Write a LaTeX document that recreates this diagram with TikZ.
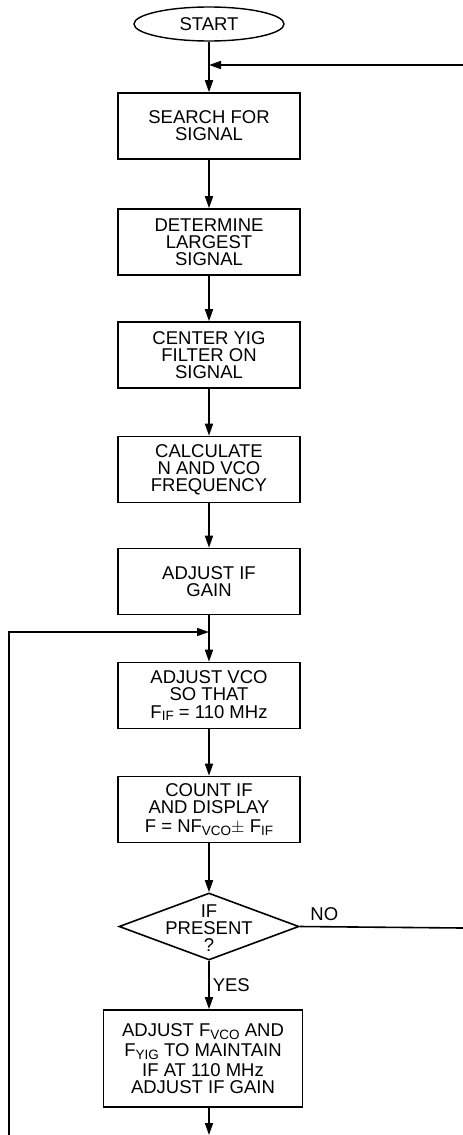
\documentclass[tikz,border=0pt]{standalone}
\usepackage{fontspec}
\setmainfont{Liberation Sans}
\usetikzlibrary{shapes.geometric,arrows.meta}
\newcommand{\subtxt}[1]{\raisebox{-0.3ex}{\fontsize{13.5}{13.5}\selectfont #1}}
\tikzset{
  flowbox/.style={draw, line width=1.6pt, minimum width=182pt, minimum height=66pt, align=center, inner sep=2pt},
  flowline/.style={line width=1.6pt, -{Triangle[length=12pt,width=8pt]}},
  plainline/.style={line width=1.6pt},
}
\begin{document}
\begin{tikzpicture}[x=1pt,y=-1pt,font=\fontsize{18.5}{17}\selectfont]
\useasboundingbox (0,0) rectangle (463,1135);
% main column of steps
\node[ellipse, draw, line width=1.4pt, minimum width=150pt, minimum height=34pt, inner sep=0pt] (start) at (209,24) {START};
\node[flowbox] (search) at (209,126) {SEARCH FOR\\SIGNAL};
\node[flowbox] (largest) at (209,242) {DETERMINE\\LARGEST\\SIGNAL};
\node[flowbox] (yig) at (209,355) {CENTER YIG\\FILTER ON\\SIGNAL};
\node[flowbox] (calc) at (209,469.5) {CALCULATE\\N AND VCO\\FREQUENCY};
\node[flowbox] (ifgain) at (209,581.5) {ADJUST IF\\GAIN};
\node[flowbox] (vco) at (209,695.5) {ADJUST VCO\\SO THAT\\[1pt]F\subtxt{IF} = 110 MHz};
\node[flowbox] (count) at (209,809.5) {COUNT IF\\AND DISPLAY\\[2pt]F = NF\subtxt{VCO}$\pm$ F\subtxt{IF}};
\node[diamond, draw, line width=1.6pt, minimum width=180pt, minimum height=67pt, inner sep=0pt] (present) at (209,926.5) {};
\node[align=center] (presenttxt) at (209,928) {IF\\PRESENT\\?};
\node[flowbox, minimum width=199pt, minimum height=97pt] (maintain) at (203,1058.5) {ADJUST F\subtxt{VCO} AND\\[3pt]F\subtxt{YIG} TO MAINTAIN\\[3pt]IF AT 110 MHz\\ADJUST IF GAIN};
% junctions and free ends
\coordinate (topjoin) at (209,65);
\coordinate (topedge) at (463,65);
\coordinate (noedge) at (463,928);
\coordinate (loopjoin) at (209,632);
\coordinate (loopcorner) at (9,632);
\coordinate (loopbot) at (9,1135);
\coordinate (botout) at (209,1135);
% connectors
\draw[flowline] (start) -- (search);
\draw[flowline] (topedge) -- (topjoin);
\foreach \a/\b in {search/largest, largest/yig, yig/calc, calc/ifgain, ifgain/vco, vco/count, count/present}
  \draw[flowline] (\a) -- (\b);
\draw[flowline] (loopbot) -- (loopcorner) -- (loopjoin);
\draw[flowline] (present.south) -- node[right, inner sep=3pt] (yes) {YES} (present.south |- maintain.north);
\draw[plainline] (present.east) -- node[pos=0.15, above, inner sep=5pt] (no) {NO} (noedge);
\draw[flowline] (maintain.south -| botout) -- (botout);
\end{tikzpicture}
\end{document}
